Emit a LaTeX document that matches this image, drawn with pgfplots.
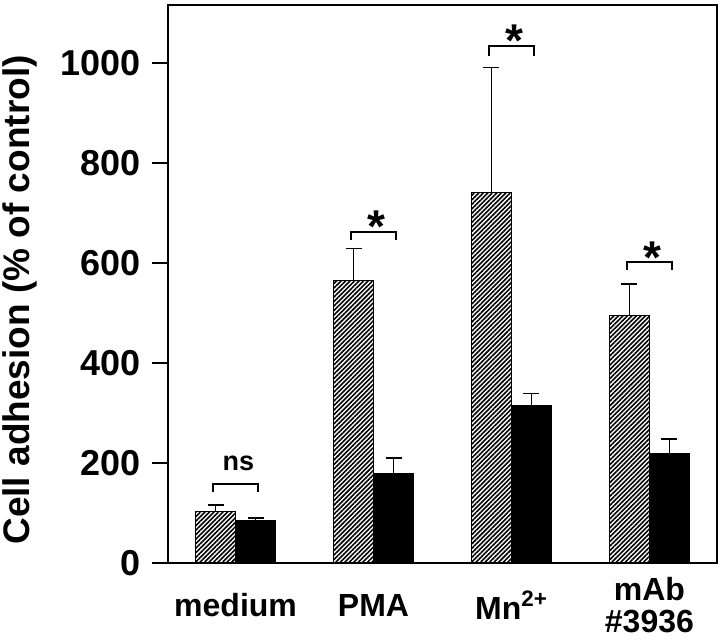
\documentclass[border=0pt]{standalone}
\usepackage{fontspec}
\setmainfont{Liberation Sans}
\usepackage{pgfplots}
\pgfplotsset{compat=1.18}
\usetikzlibrary{patterns.meta}
\begin{document}
\begin{tikzpicture}
\begin{axis}[
  name=ax,
  scale only axis,
  width=274.5pt, height=279pt,
  xmin=-0.49, xmax=3.49,
  ymin=0, ymax=1116,
  axis line style={line width=0.8pt},
  xtick={0,1,2,3},
  xticklabels={medium, PMA, Mn\textsuperscript{2+}, {mAb\\\#3936}},
  x tick style={draw=none},
  xticklabel style={font=\fontsize{16}{16}\selectfont\bfseries, align=center, anchor=center, yshift=-13pt},
  ytick={0,200,400,600,800,1000},
  ytick pos=left,
  tick align=outside,
  major tick length=8pt,
  y tick style={line width=0.6pt, black},
  yticklabel style={font=\fontsize{18}{20}\selectfont\bfseries, xshift=-2pt},
  /pgf/number format/assume math mode=true,
  /pgf/number format/1000 sep={},
  ylabel={Cell adhesion (\% of control)},
  every axis y label/.style={at={(axis cs:-1.565,526)}, rotate=90, anchor=center, font=\fontsize{18.5}{21}\selectfont\bfseries},
  bar width=0.29,
  clip=false,
  error bars/error bar style={line width=0.6pt, black},
  error bars/error mark options={rotate=90, mark size=4pt, line width=0.6pt, black},
]
\addplot[ybar, bar shift=0, draw=black, line width=0.5pt,
  pattern={Lines[angle=45,distance=1.6pt,line width=0.8pt]}, pattern color=black,
  error bars/.cd, y dir=plus, y explicit]
  coordinates {(-0.145,103) +- (0,13) (0.855,564) +- (0,65) (1.855,741) +- (0,250) (2.855,495) +- (0,63)};
\addplot[ybar, bar shift=0, draw=black, fill=black, line width=0.5pt,
  error bars/.cd, y dir=plus, y explicit]
  coordinates {(0.145,84) +- (0,6) (1.145,179) +- (0,31) (2.145,315) +- (0,24) (3.145,218) +- (0,30)};
% significance brackets
\addplot[sharp plot, black, line width=1pt, no marks] coordinates {(-0.165,141) (-0.165,158) (0.165,158) (0.165,141)};
\addplot[sharp plot, black, line width=1pt, no marks] coordinates {(0.835,645) (0.835,662) (1.165,662) (1.165,645)};
\addplot[sharp plot, black, line width=1pt, no marks] coordinates {(1.835,1014) (1.835,1033) (2.165,1033) (2.165,1014)};
\addplot[sharp plot, black, line width=1pt, no marks] coordinates {(2.835,585) (2.835,602) (3.165,602) (3.165,585)};
\node[font=\fontsize{13.5}{16}\selectfont\bfseries, anchor=base, inner sep=0pt] at (axis cs:0.02,184) {ns};
\node[font=\fontsize{23}{24}\selectfont\bfseries, anchor=north, inner sep=0pt] at (axis cs:1.02,706) {*};
\node[font=\fontsize{23}{24}\selectfont\bfseries, anchor=north, inner sep=0pt] at (axis cs:2.02,1078) {*};
\node[font=\fontsize{23}{24}\selectfont\bfseries, anchor=north, inner sep=0pt] at (axis cs:3.02,644) {*};
\end{axis}
\pgfresetboundingbox
\useasboundingbox ([shift={(-84pt,-38.5pt)}]ax.south west) rectangle ([shift={(1.5pt,2.5pt)}]ax.north east);
\end{tikzpicture}
\end{document}
